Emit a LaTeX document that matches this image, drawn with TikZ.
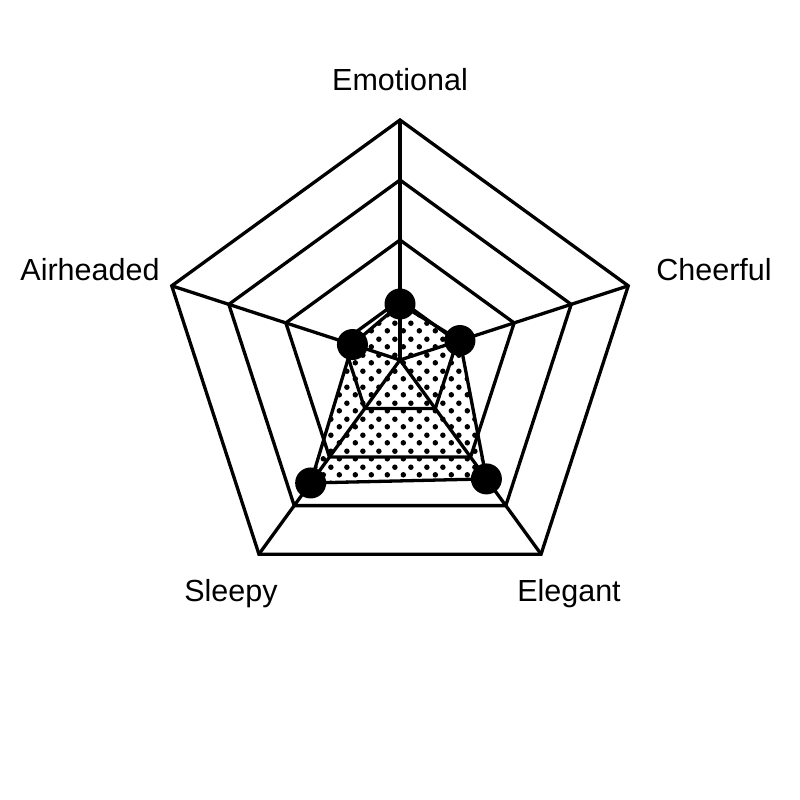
\documentclass[tikz,border=0pt]{standalone}
\usepackage{fontspec}
\setmainfont{Liberation Sans}
\usetikzlibrary{patterns}
\pgfdeclarepatternformonly{stagdots}{\pgfpointorigin}{\pgfqpoint{16pt}{16pt}}{\pgfqpoint{16pt}{16pt}}{%
  \pgfpathcircle{\pgfqpoint{3.5pt}{5.5pt}}{2.9pt}%
  \pgfpathcircle{\pgfqpoint{11.5pt}{13.5pt}}{2.9pt}%
  \pgfusepath{fill}}
\begin{document}
\begin{tikzpicture}[x=1pt,y=1pt,
  grid/.style={draw=black, line width=3.3pt},
  marker/.style={circle, fill=black, inner sep=0pt, minimum size=31pt},
  lab/.style={font=\fontsize{30.5}{36}\selectfont, anchor=base, inner sep=0pt}]
\useasboundingbox (0,0) rectangle (800,800);
\coordinate (O) at (400,440);
% data points
\coordinate (dE) at ([shift={(90:56)}]O);
\coordinate (dC) at ([shift={(18:63)}]O);
\coordinate (dL) at ([shift={(-54:147)}]O);
\coordinate (dS) at ([shift={(-126:152)}]O);
\coordinate (dA) at ([shift={(162:50)}]O);
% pattern fill
\fill[pattern=stagdots] (dE) -- (dC) -- (dL) -- (dS) -- (dA) -- cycle;
% rings
\foreach \r in {60,120,180,240}{
  \draw[grid] ([shift={(90:\r)}]O) -- ([shift={(18:\r)}]O) -- ([shift={(-54:\r)}]O)
    -- ([shift={(-126:\r)}]O) -- ([shift={(162:\r)}]O) -- cycle;
}
% spokes
\foreach \a in {90,18,-54,-126,162}{
  \draw[grid] (O) -- ([shift={(\a:240)}]O);
}
% data outline
\draw[grid] (dE) -- (dC) -- (dL) -- (dS) -- (dA) -- cycle;
% markers
\node[marker] (mE) at (dE) {};
\node[marker] (mC) at (dC) {};
\node[marker] (mL) at (dL) {};
\node[marker] (mS) at (dS) {};
\node[marker] (mA) at (dA) {};
% labels
\node[lab] (tE) at (400,709) {Emotional};
\node[lab] (tC) at (714,519) {Cheerful};
\node[lab] (tA) at (90,519) {Airheaded};
\node[lab] (tS) at (231,198) {Sleepy};
\node[lab] (tL) at (569,198) {Elegant};
\end{tikzpicture}
\end{document}
